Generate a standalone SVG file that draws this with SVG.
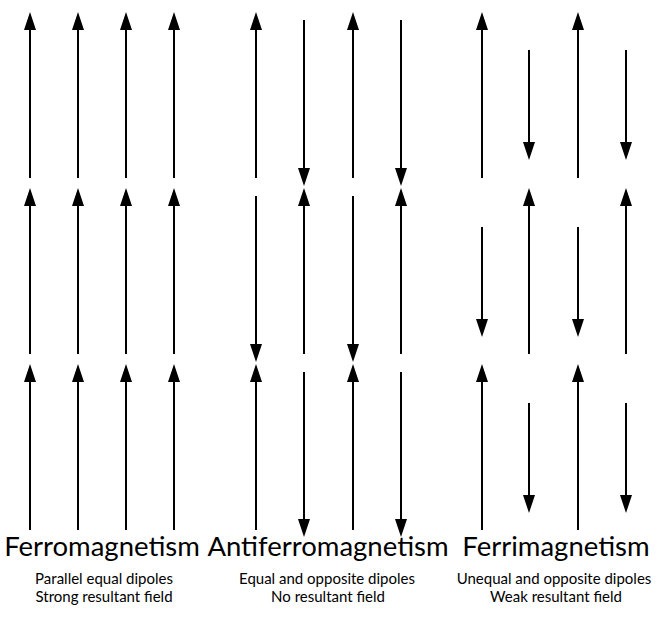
<svg xmlns="http://www.w3.org/2000/svg" xmlns:xlink="http://www.w3.org/1999/xlink" width="664" height="626" viewBox="0 0 664 626">
<style>
.shaft{stroke:#000;stroke-width:2;fill:none}
.head{fill:#000}
.title{font-family:Lato,"Open Sans","Liberation Sans",sans-serif;font-size:27.5px;fill:#000;text-anchor:middle}
.sub{font-family:Lato,"Open Sans","Liberation Sans",sans-serif;font-size:15px;fill:#000;text-anchor:middle}
</style>
<defs>
<path id="up" class="head" d="M0,0 L6,18 L-6,18 Z"/>
<path id="dn" class="head" d="M0,0 L6,-18 L-6,-18 Z"/>
</defs>
<rect width="664" height="626" fill="#fff"/>
<g id="connectors">
<g id="ferro-arrows">
<path class="shaft" d="M30,178V28M78,178V28M126,178V28M174,178V28M30,354V204M78,354V204M126,354V204M174,354V204M30,530V380M78,530V380M126,530V380M174,530V380"/>
<use xlink:href="#up" x="30" y="12"/><use xlink:href="#up" x="78" y="12"/><use xlink:href="#up" x="126" y="12"/><use xlink:href="#up" x="174" y="12"/>
<use xlink:href="#up" x="30" y="188"/><use xlink:href="#up" x="78" y="188"/><use xlink:href="#up" x="126" y="188"/><use xlink:href="#up" x="174" y="188"/>
<use xlink:href="#up" x="30" y="364"/><use xlink:href="#up" x="78" y="364"/><use xlink:href="#up" x="126" y="364"/><use xlink:href="#up" x="174" y="364"/>
</g>
<g id="antiferro-arrows">
<path class="shaft" d="M256,178V28M353,178V28M304,20V170M401,20V170M256,196V346M353,196V346M304,354V204M401,354V204M256,530V380M353,530V380M304,372V521M401,372V521"/>
<use xlink:href="#up" x="256" y="12"/><use xlink:href="#up" x="353" y="12"/>
<use xlink:href="#dn" x="304" y="186"/><use xlink:href="#dn" x="401" y="186"/>
<use xlink:href="#dn" x="256" y="362"/><use xlink:href="#dn" x="353" y="362"/>
<use xlink:href="#up" x="304" y="188"/><use xlink:href="#up" x="401" y="188"/>
<use xlink:href="#up" x="256" y="364"/><use xlink:href="#up" x="353" y="364"/>
<use xlink:href="#dn" x="304" y="537"/><use xlink:href="#dn" x="401" y="537"/>
</g>
<g id="ferri-arrows">
<path class="shaft" d="M482,178V28M578,178V28M529,50V144M626,50V144M482,227V321M578,227V321M529,354V204M626,354V204M482,530V380M578,530V380M529,403V497M626,403V497"/>
<use xlink:href="#up" x="482" y="12"/><use xlink:href="#up" x="578" y="12"/>
<use xlink:href="#dn" x="529" y="160"/><use xlink:href="#dn" x="626" y="160"/>
<use xlink:href="#dn" x="482" y="337"/><use xlink:href="#dn" x="578" y="337"/>
<use xlink:href="#up" x="529" y="188"/><use xlink:href="#up" x="626" y="188"/>
<use xlink:href="#up" x="482" y="364"/><use xlink:href="#up" x="578" y="364"/>
<use xlink:href="#dn" x="529" y="513"/><use xlink:href="#dn" x="626" y="513"/>
</g>
</g>
<g id="ferromagnetism">
<text class="title" x="102" y="556">Ferromagnetism</text>
<text class="sub" x="104" y="584">Parallel equal dipoles</text>
<text class="sub" x="104" y="602">Strong resultant field</text>
</g>
<g id="antiferromagnetism">
<text class="title" x="328" y="556">Antiferromagnetism</text>
<text class="sub" x="327" y="584">Equal and opposite dipoles</text>
<text class="sub" x="328" y="602">No resultant field</text>
</g>
<g id="ferrimagnetism">
<text class="title" x="556" y="556">Ferrimagnetism</text>
<text class="sub" x="554" y="584">Unequal and opposite dipoles</text>
<text class="sub" x="556" y="602">Weak resultant field</text>
</g>
</svg>
